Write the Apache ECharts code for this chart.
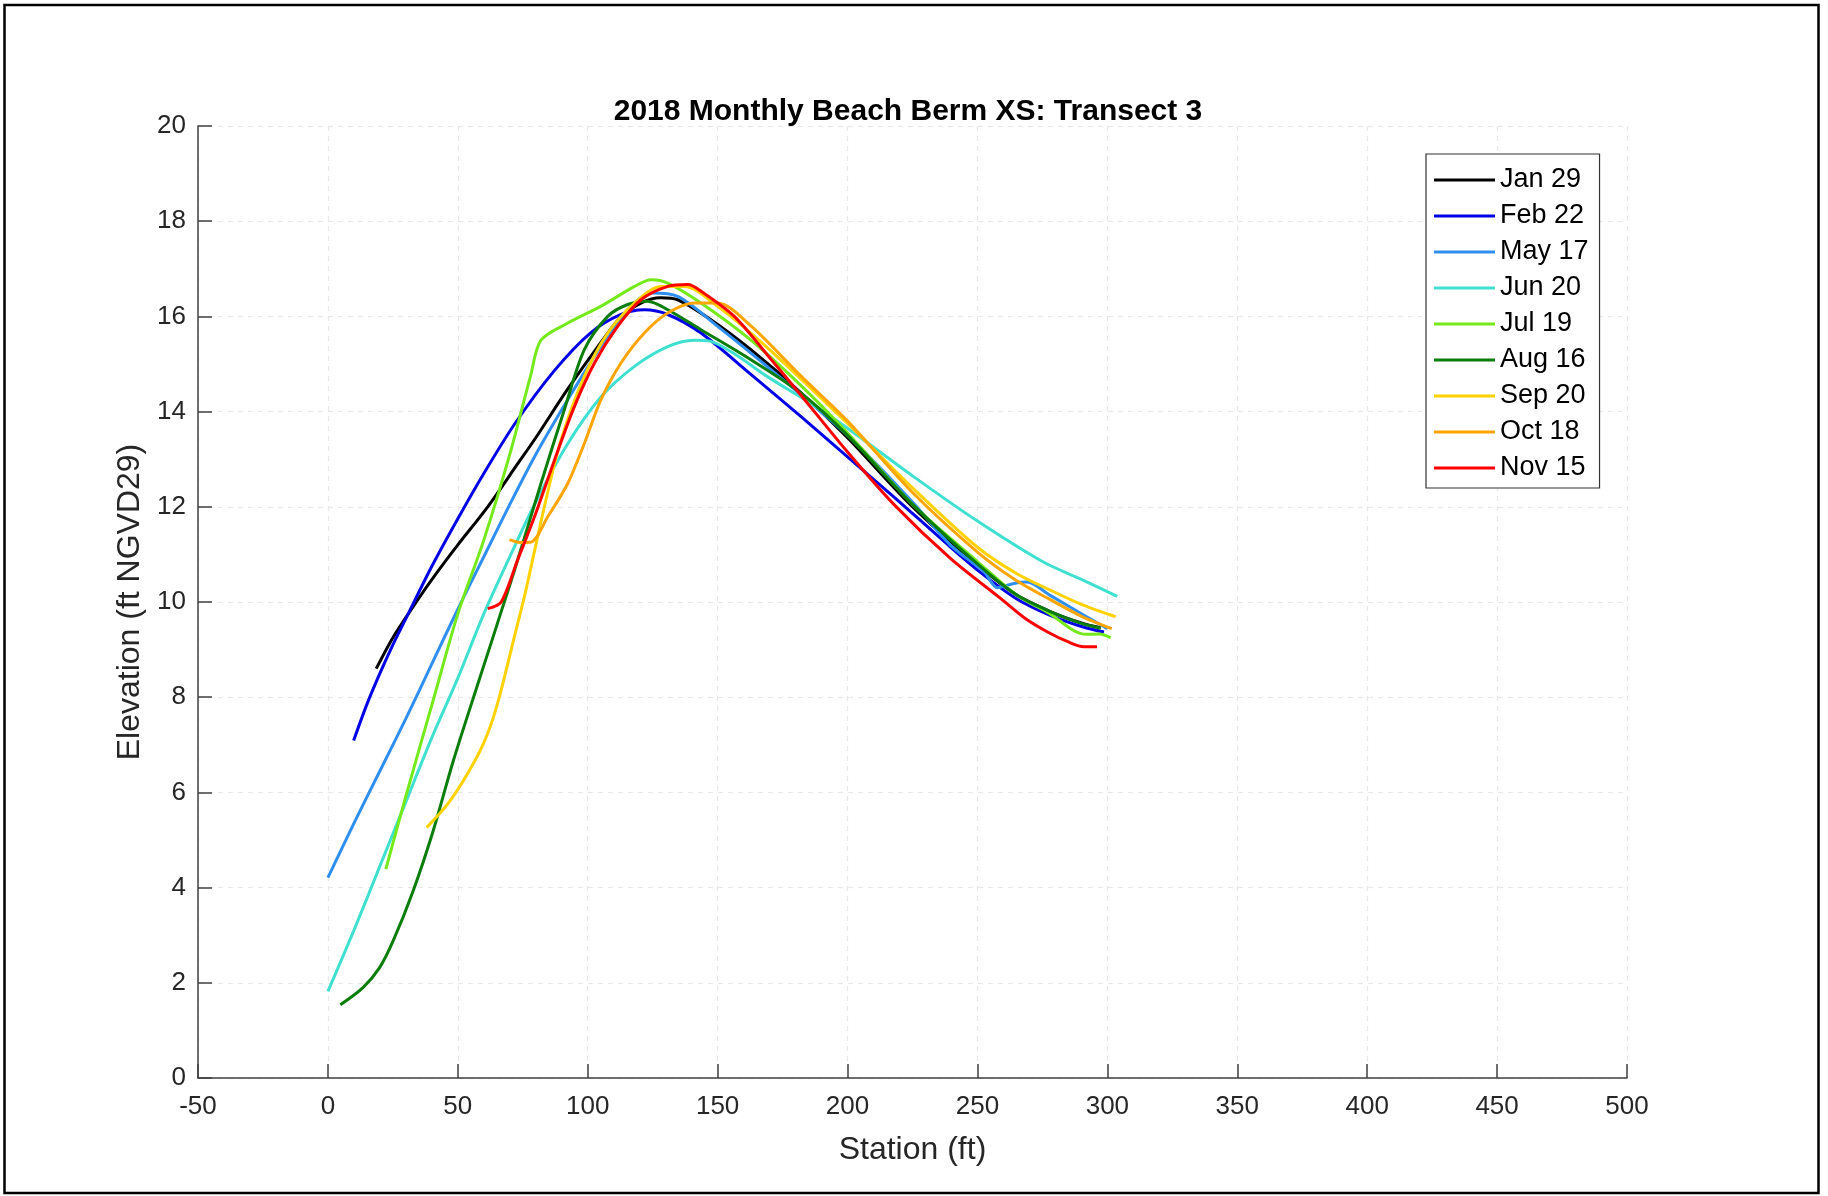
<!DOCTYPE html>
<html>
<head>
<meta charset="utf-8">
<script src="https://cdn.jsdelivr.net/npm/echarts@6/dist/echarts.min.js"></script>
<style>
html,body{margin:0;padding:0;background:#fff;}
#chart{width:1828px;height:1196px;}
</style>
</head>
<body>
<div id="chart"></div>
<script>
// Station (ft), Elevation (ft NGVD29)
const jan29 = [[18.6,8.6],[25,9.25],[34,10.0],[42,10.62],[50,11.2],[61.5,12.0],[73,12.9],[80,13.45],[92,14.45],[105,15.45],[113,16.0],[120.5,16.28],[128,16.39],[134.6,16.35],[147.4,15.93],[162.8,15.3],[182,14.4],[200,13.45],[225,12.0],[250,10.78],[265,10.15],[278,9.8],[290,9.56],[297.4,9.46]];
const feb22 = [[9.9,7.09],[15,7.85],[20,8.5],[25,9.1],[30,9.65],[40,10.75],[50,11.75],[60,12.7],[72,13.75],[87,14.85],[101,15.65],[112.8,16.04],[121.8,16.14],[130.8,16.04],[143.6,15.65],[162.8,14.78],[182,13.9],[200,13.05],[218,12.2],[239.7,11.15],[252.6,10.56],[265,10.07],[278,9.72],[291,9.47],[298.7,9.37]];
const may17 = [[0,4.21],[10,5.35],[20,6.45],[30,7.55],[40,8.7],[50,9.85],[60,10.95],[70,12.05],[80,13.1],[92.3,14.25],[105.1,15.37],[115.4,16.14],[124.4,16.49],[134.6,16.42],[150,15.79],[169,14.95],[200,13.5],[225,12.1],[239.7,11.19],[252.6,10.63],[257.7,10.3],[264,10.39],[269,10.42],[278,10.14],[291,9.72],[300,9.44]];
const jun20 = [[0,1.82],[10,3.1],[20,4.45],[30,5.8],[40,7.15],[50,8.4],[60,9.75],[70,10.95],[80,12.1],[92,13.3],[105,14.3],[118,14.95],[131,15.37],[141,15.5],[147,15.48],[156,15.23],[169,14.74],[185,14.2],[200,13.65],[225,12.65],[250,11.7],[275,10.85],[291,10.45],[303.8,10.12]];
const jul19 = [[22.3,4.39],[30.2,5.96],[40.5,7.93],[50,9.75],[60,11.3],[70,13.1],[78,14.75],[82,15.5],[92,15.85],[105,16.21],[118,16.63],[124.4,16.77],[130.8,16.7],[143.6,16.28],[162.8,15.5],[182,14.55],[200,13.55],[225,12.05],[250,10.85],[265,10.15],[278,9.75],[287,9.4],[292,9.32],[297,9.33],[301.3,9.25]];
const aug16 = [[4.8,1.54],[13.5,1.9],[19.9,2.32],[25.1,2.88],[32.8,3.93],[40.5,5.19],[48.3,6.67],[57.3,8.21],[62,9.0],[67,9.85],[72,10.7],[82,12.49],[91,14.04],[98.7,15.3],[107.7,16.0],[115.4,16.25],[123,16.32],[130.8,16.14],[143.6,15.72],[162.8,15.09],[182,14.39],[200,13.5],[225,12.05],[250,10.8],[265,10.15],[278,9.8],[290,9.55],[297.4,9.45]];
const sep20 = [[38,5.26],[47,5.82],[57.3,6.74],[62.4,7.37],[66.3,8.07],[71.4,9.19],[76,10.2],[83.3,12.0],[89.7,13.4],[98.7,14.74],[107.7,15.65],[118,16.28],[128.2,16.63],[137.2,16.63],[150,16.21],[169,15.35],[200,13.75],[225,12.4],[250,11.15],[265,10.6],[278,10.25],[290,9.95],[303.2,9.69]];
const oct18 = [[69.9,11.31],[74,11.25],[78.2,11.26],[84.6,11.79],[92.3,12.49],[98.7,13.33],[105.1,14.25],[112.8,15.02],[121.8,15.65],[130.8,16.07],[141,16.28],[150,16.28],[162.8,15.8],[182,14.75],[200,13.8],[225,12.3],[250,11.05],[265,10.45],[278,10.05],[290,9.7],[301.7,9.44]];
const nov15 = [[61.5,9.86],[66.7,10.0],[73,10.88],[79.5,11.79],[87.2,12.98],[94.9,14.11],[102.6,15.02],[111.5,15.79],[120.5,16.35],[130.8,16.63],[138.5,16.67],[143.6,16.53],[156.4,16.0],[169,15.2],[182,14.35],[200,13.15],[218,12.04],[239.7,10.91],[259,10.07],[268,9.67],[277,9.37],[285,9.16],[291,9.06],[296,9.06]];

const seriesNames = ['Jan 29','Feb 22','May 17','Jun 20','Jul 19','Aug 16','Sep 20','Oct 18','Nov 15'];
const seriesData = [jan29, feb22, may17, jun20, jul19, aug16, sep20, oct18, nov15];
const seriesColors = ['#000000','#0000e6','#2f8ff0','#40e0d0','#74ea1c','#0a7d0a','#ffd200','#ffa500','#ff0000'];

const xTicks = {min:-50, max:500, interval:50};
const yTicks = {min:0, max:20, interval:2};

const FONT = '"Liberation Sans", Arial, Helvetica, sans-serif';
const chart = echarts.init(document.getElementById('chart'), null, {renderer:'canvas'});

const axisCommon = {
  axisLine:{show:true, onZero:false, lineStyle:{color:'#404040', width:1.5}},
  axisTick:{show:true, inside:true, length:14, lineStyle:{color:'#404040', width:1.5}},
  splitLine:{show:true, lineStyle:{color:'#e8e8e8', type:[5,5], width:1.2}},
  nameTextStyle:{fontFamily:FONT, fontSize:32, color:'#262626'}
};

chart.setOption({
  backgroundColor:'#ffffff',
  animation:false,
  textStyle:{fontFamily:FONT},
  title:{
    text:'2018 Monthly Beach Berm XS: Transect 3',
    left:903, textAlign:'center', top:92,
    textStyle:{fontFamily:FONT, fontSize:30, fontWeight:'bold', color:'#000'}
  },
  grid:{left:198, right:201, top:126, bottom:118, containLabel:false},
  xAxis:Object.assign({}, axisCommon, {
    type:'value', min:xTicks.min, max:xTicks.max, interval:xTicks.interval,
    name:'Station (ft)', nameLocation:'middle', nameGap:56,
    axisLabel:{fontFamily:FONT, fontSize:26, color:'#262626', margin:16}
  }),
  yAxis:Object.assign({}, axisCommon, {
    type:'value', min:yTicks.min, max:yTicks.max, interval:yTicks.interval,
    name:'Elevation (ft NGVD29)', nameLocation:'middle', nameGap:50,
    axisLabel:{fontFamily:FONT, fontSize:26, color:'#262626', margin:12}
  }),
  legend:{
    orient:'vertical', left:1426, top:154,
    padding:[11,11,5,8], itemGap:6, itemWidth:61, itemHeight:3,
    icon:'rect',
    borderColor:'#333', borderWidth:1.2, backgroundColor:'#fff',
    textStyle:{fontFamily:FONT, fontSize:27, color:'#000', lineHeight:30},
    data:seriesNames
  },
  graphic:[{
    type:'rect', silent:true, z:100,
    shape:{x:4.5, y:5, width:1814, height:1188},
    style:{fill:null, stroke:'#000', lineWidth:2.5}
  }],
  series:seriesNames.map((n,i)=>({
    name:n, type:'line', data:seriesData[i],
    symbol:'none', showSymbol:false, smooth:0.3,
    lineStyle:{color:seriesColors[i], width:3},
    itemStyle:{color:seriesColors[i]}
  }))
});
</script>
</body>
</html>
